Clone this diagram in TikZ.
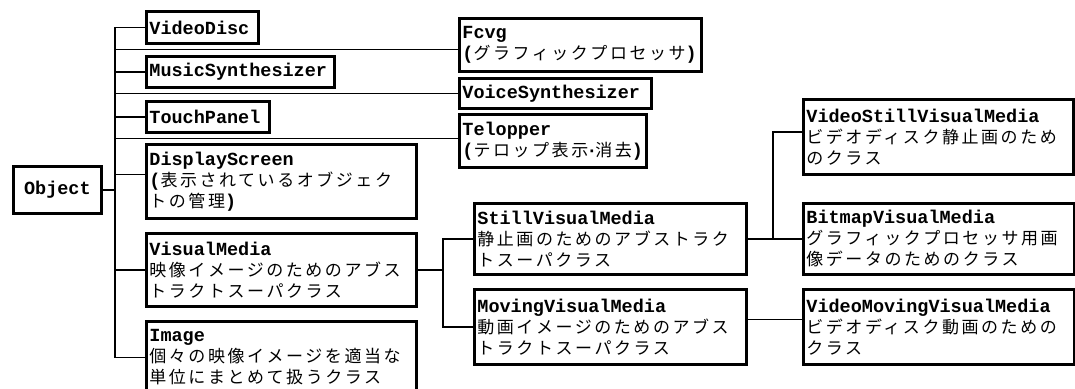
\documentclass[tikz,border=0pt]{standalone}
\usepackage{fontspec}
\setmonofont{Liberation Mono}
\newfontfamily\jpfont[LetterSpace=15]{Noto Sans CJK JP}
\usetikzlibrary{calc}
\newcommand\jpt[1]{{\jpfont\mdseries\fontsize{17}{21}\selectfont #1}}
\tikzset{
  cls/.style={draw, line width=2.8pt, anchor=north west, align=left,
    inner xsep=3pt, inner ysep=0pt,
    font=\ttfamily\bfseries\fontsize{18.5}{21}\selectfont},
  conn/.style={line width=1.4pt},
}
\begin{document}
\begin{tikzpicture}[x=1pt,y=-1pt]
\useasboundingbox (0,0) rectangle (1075,388);
\fill[white] (0,0) rectangle (1075,388);
% boxes
\node[cls, align=center, text width=82pt, minimum height=47pt] (obj) at (12,165) {Object};
\node[cls, text width=106pt, minimum height=32pt] (vd) at (145,10) {VideoDisc};
\node[cls, text width=182pt, minimum height=31pt] (ms) at (145,55) {MusicSynthesizer};
\node[cls, text width=117pt, minimum height=31pt] (tp) at (145,100) {TouchPanel};
\node[cls, text width=264pt, minimum height=74pt] (ds) at (145,143)
  {DisplayScreen\\(\jpt{表示されているオブジェク}\\\jpt{トの管理})};
\node[cls, text width=264pt, minimum height=73pt] (vm) at (145,232)
  {VisualMedia\\\jpt{映像イメージのためのアブス}\\\jpt{トラクトスーパクラス}};
\node[cls, text width=264pt, minimum height=72pt] (im) at (145,320)
  {Image\\\jpt{個々の映像イメージを適当な}\\\jpt{単位にまとめて扱うクラス}};
\node[cls, text width=236pt, minimum height=53pt] (fc) at (458,17)
  {Fcvg\\(\jpt{グラフィックプロセッサ})};
\node[cls, text width=186pt, minimum height=30pt] (vs) at (458,77) {VoiceSynthesizer};
\node[cls, text width=181pt, minimum height=53pt] (te) at (458,113)
  {Telopper\\(\jpt{テロップ表示}\kern-2pt·\kern-2pt\jpt{消去})};
\node[cls, text width=266pt, minimum height=71pt] (sv) at (473,202)
  {StillVisualMedia\\\jpt{静止画のためのアブストラク}\\\jpt{トスーパクラス}};
\node[cls, text width=266pt, minimum height=75pt] (mv) at (473,288)
  {MovingVisualMedia\\\jpt{動画イメージのためのアブス}\\\jpt{トラクトスーパクラス}};
\node[cls, text width=264pt, minimum height=75pt] (vsv) at (802,98)
  {VideoStillVisualMedia\\\jpt{ビデオディスク静止画のため}\\\jpt{のクラス}};
\node[cls, text width=265pt, minimum height=71pt] (bv) at (802,202)
  {BitmapVisualMedia\\\jpt{グラフィックプロセッサ用画}\\\jpt{像データのためのクラス}};
\node[cls, text width=265pt, minimum height=75pt] (vmv) at (802,288)
  {VideoMovingVisualMedia\\\jpt{ビデオディスク動画のための}\\\jpt{クラス}};
% connectors
\coordinate (tr) at (115,0);
\coordinate (j1) at (443,0);
\coordinate (j2) at (773,0);
\coordinate (dsin) at ($(ds.west)+(0,-7)$);
\coordinate (fcin) at ($(fc.west)+(0,4.5)$);
\coordinate (tein) at ($(te.west)+(0,-2.5)$);
\coordinate (vsvin) at ($(vsv.west)+(0,-5)$);
\coordinate (mvout) at ($(mv.east)+(0,-7.5)$);
\draw[conn] (vd.west) -- (vd.west -| tr) -- (im.west -| tr) -- (im.west);
\draw[conn] (obj.east) -- (obj.east -| tr);
\foreach \n in {ms,tp,vm} \draw[conn] (\n.west -| tr) -- (\n.west);
\draw[conn] (dsin -| tr) -- (dsin);
\draw[conn] (fcin -| tr) -- (fcin);
\draw[conn] (vs.west -| tr) -- (vs.west);
\draw[conn] (tein -| tr) -- (tein);
\draw[conn] (vm.east) -- (vm.east -| j1);
\draw[conn] (sv.west) -| (j1 |- mv.west) -- (mv.west);
\draw[conn] (sv.east) -- (bv.west);
\draw[conn] (sv.east -| j2) |- (vsvin);
\draw[conn] (mvout) -- (mvout -| vmv.west);
\end{tikzpicture}
\end{document}
